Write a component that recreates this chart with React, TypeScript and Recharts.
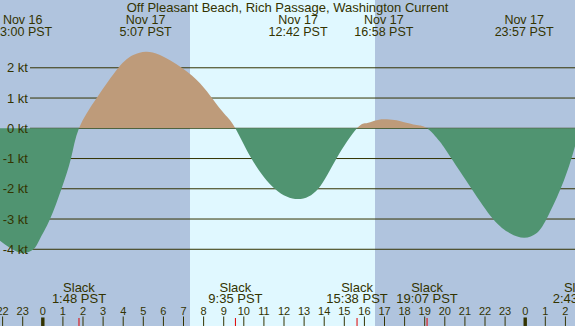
import { AreaChart, Area, XAxis, YAxis, ReferenceArea, ReferenceLine } from "recharts";

// hours from Nov 17 00:00 PST, current speed in knots (flood +, ebb -)
const flowHours = [
  -2.2, -1.6, -1.0, -0.47, -0.17, 0.36, 0.93, 1.4, 1.8, 2.68, 3.76, 4.5, 5.12, 5.83, 6.91, 7.82,
  8.48, 9.04, 9.58, 10.38, 11.54, 12.7, 13.7, 14.61, 15.63, 16.1, 16.5, 16.97, 17.5, 17.93, 18.6,
  19.12, 19.75, 20.33, 21.33, 22.4, 23.24, 23.95, 24.56, 25.06, 25.76, 26.3, 26.72,
];
const flowKnots = [
  -3.68, -3.97, -4.13, -4.0, -3.69, -3.0, -2.0, -1.0, 0, 1.0, 2.0, 2.42, 2.53, 2.42, 2.0, 1.49,
  0.94, 0.47, 0, -1.0, -2.0, -2.34, -2.0, -1.0, 0, 0.17, 0.25, 0.3, 0.27, 0.21, 0.11,
  0, -0.44, -1.0, -2.0, -3.0, -3.47, -3.62, -3.47, -3.0, -2.0, -1.0, 0,
];

const peakHours = [-1.0, 5.117, 12.7, 16.967, 23.95];
const peakDates = ["Nov 16", "Nov 17", "Nov 17", "Nov 17", "Nov 17"];
const peakTimes = ["23:00 PST", "5:07 PST", "12:42 PST", "16:58 PST", "23:57 PST"];

const slackHours = [1.8, 9.583, 15.633, 19.117, 26.717];
const slackTimes = ["1:48 PST", "9:35 PST", "15:38 PST", "19:07 PST", "2:43 PST"];

const hourTicks = [-2, -1, 0, 1, 2, 3, 4, 5, 6, 7, 8, 9, 10, 11, 12, 13, 14, 15, 16, 17, 18, 19, 20, 21, 22, 23, 24, 25, 26];
const hourLabels = ["22", "23", "0", "1", "2", "3", "4", "5", "6", "7", "8", "9", "10", "11", "12", "13", "14", "15", "16", "17", "18", "19", "20", "21", "22", "23", "0", "1", "2"];

const knotTicks = [-4, -3, -2, -1, 0, 1, 2];
const knotLabels = ["-4 kt", "-3 kt", "-2 kt", "-1 kt", "0 kt", "1 kt", "2 kt"];

const sunrise = 7.323;
const sunset = 16.527;

const title = "Off Pleasant Beach, Rich Passage, Washington Current";

const W = 620;
const H = 326;
const X_MIN = -2.1294;
const X_MAX = 28.716;
const Y_MIN = -6.536;
const Y_MAX = 4.241;
const GRID_START = -0.637;
const ZERO_FRAC = Y_MAX / (Y_MAX - Y_MIN);
const THIN = 0.01; // axes need a non-zero size to draw their ticks

const NIGHT = "#b0c4de";
const DAY = "#e0f8ff";
const FLOOD = "#be9b7a";
const EBB = "#509471";
const INK = "#333300";
const FONT = "'Liberation Sans', Arial, sans-serif";

const data = flowHours.map((h, i) => ({ h, v: flowKnots[i] }));

const HourTick = (props: any) => {
  const { x, y, payload } = props;
  const i = hourTicks.indexOf(payload.value);
  const midnight = hourLabels[i] === "0";
  return (
    <g>
      <text x={x} y={y - 10.5} textAnchor="middle" fontSize={11} fill={INK} fontFamily={FONT}>
        {hourLabels[i]}
      </text>
      {midnight ? (
        <rect x={x - 1.7} y={y - 8.5} width={3.4} height={8.5} fill={INK} />
      ) : (
        <line x1={x} x2={x} y1={y - 9.5} y2={y} stroke={INK} strokeWidth={1} />
      )}
    </g>
  );
};

const SlackTick = (props: any) => {
  const { x, y, payload } = props;
  const i = slackHours.indexOf(payload.value);
  return (
    <g>
      <text x={x} y={y - 34} textAnchor="middle" fontSize={13} fill={INK} fontFamily={FONT}>
        Slack
      </text>
      <text x={x} y={y - 22.5} textAnchor="middle" fontSize={13} fill={INK} fontFamily={FONT}>
        {slackTimes[i]}
      </text>
      <line x1={x} x2={x} y1={y - 8} y2={y} stroke="#e00000" strokeWidth={1} />
    </g>
  );
};

const PeakTick = (props: any) => {
  const { x, y, payload } = props;
  const i = peakHours.indexOf(payload.value);
  return (
    <g>
      <text x={x} y={y + 24} textAnchor="middle" fontSize={12.5} fill={INK} fontFamily={FONT}>
        {peakDates[i]}
      </text>
      <text x={x} y={y + 36} textAnchor="middle" fontSize={12.5} fill={INK} fontFamily={FONT}>
        {peakTimes[i]}
      </text>
    </g>
  );
};

const KnotTick = (props: any) => {
  const { x, y, payload } = props;
  const i = knotTicks.indexOf(payload.value);
  return (
    <text x={x + 28} y={y + 4.5} textAnchor="end" fontSize={13} fill={INK} fontFamily={FONT}>
      {knotLabels[i]}
    </text>
  );
};

export default function App() {
  return (
    <div
      style={{
        position: "absolute",
        left: 0,
        top: 0,
        width: 575,
        height: H,
        overflow: "hidden",
        background: NIGHT,
        fontFamily: FONT,
      }}
    >
      <AreaChart width={W} height={H} data={data} margin={{ top: 0, right: 0, bottom: 0, left: 0 }}>
        <defs>
          <linearGradient id="flowFill" gradientUnits="userSpaceOnUse" x1={0} y1={0} x2={0} y2={H}>
            <stop offset={ZERO_FRAC} stopColor={FLOOD} />
            <stop offset={ZERO_FRAC} stopColor={EBB} />
          </linearGradient>
        </defs>
        <XAxis
          dataKey="h"
          type="number"
          domain={[X_MIN, X_MAX]}
          allowDataOverflow
          ticks={hourTicks}
          interval={0}
          height={THIN}
          tickSize={0}
          tickMargin={0}
          axisLine={false}
          tickLine={false}
          tick={HourTick}
        />
        <XAxis
          xAxisId="slack"
          dataKey="h"
          type="number"
          domain={[X_MIN, X_MAX]}
          allowDataOverflow
          ticks={slackHours}
          interval={0}
          height={THIN}
          tickSize={0}
          tickMargin={0}
          axisLine={false}
          tickLine={false}
          tick={SlackTick}
        />
        <XAxis
          xAxisId="peak"
          orientation="top"
          dataKey="h"
          type="number"
          domain={[X_MIN, X_MAX]}
          allowDataOverflow
          ticks={peakHours}
          interval={0}
          height={THIN}
          tickSize={0}
          tickMargin={0}
          axisLine={false}
          tickLine={false}
          tick={PeakTick}
        />
        <YAxis
          type="number"
          domain={[Y_MIN, Y_MAX]}
          allowDataOverflow
          ticks={knotTicks}
          interval={0}
          width={THIN}
          tickSize={0}
          tickMargin={0}
          axisLine={false}
          tickLine={false}
          tick={KnotTick}
        />
        <ReferenceArea x1={sunrise} x2={sunset} fill={DAY} fillOpacity={1} stroke="none" zIndex={-90} />
        {knotTicks.map((k) => (
          <ReferenceLine
            key={k}
            segment={[
              { x: GRID_START, y: k },
              { x: X_MAX, y: k },
            ]}
            stroke={INK}
            strokeWidth={1}
            zIndex={-80}
          />
        ))}
        <Area
          type="natural"
          dataKey="v"
          baseValue={0}
          stroke="none"
          fill="url(#flowFill)"
          fillOpacity={1}
          isAnimationActive={false}
          dot={false}
          activeDot={false}
        />
      </AreaChart>
      <div
        style={{
          position: "absolute",
          left: 0,
          top: 1,
          width: 575,
          textAlign: "center",
          fontSize: 13,
          lineHeight: "13px",
          color: INK,
        }}
      >
        {title}
      </div>
    </div>
  );
}
